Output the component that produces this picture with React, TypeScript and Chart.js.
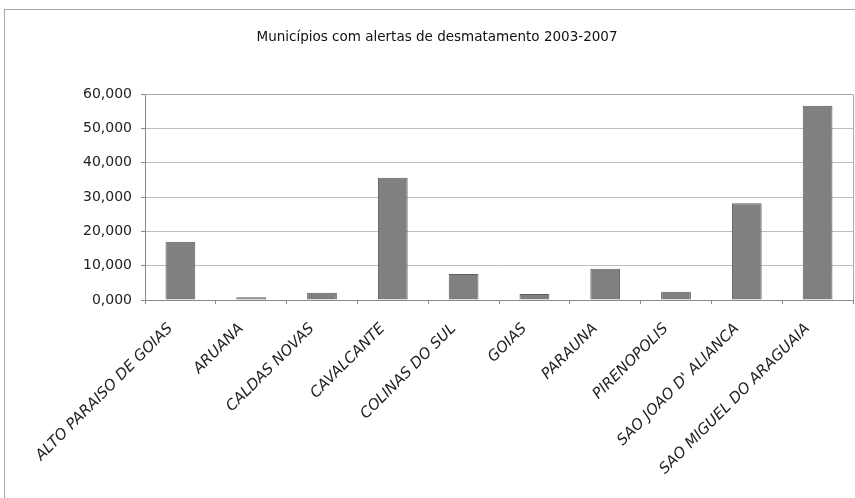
import React, { useEffect, useRef } from "react";
import { Chart, registerables } from "chart.js";

Chart.register(...registerables);

const title = "Municípios com alertas de desmatamento 2003-2007";
const categories = [
  "ALTO PARAISO DE GOIAS",
  "ARUANA",
  "CALDAS NOVAS",
  "CAVALCANTE",
  "COLINAS DO SUL",
  "GOIAS",
  "PARAUNA",
  "PIRENOPOLIS",
  "SAO JOAO D' ALIANCA",
  "SAO MIGUEL DO ARAGUAIA",
];
const values = [17.0, 0.8, 2.1, 35.6, 7.6, 1.75, 9.1, 2.4, 28.2, 56.6];
const yTickLabels = ["0,000", "10,000", "20,000", "30,000", "40,000", "50,000", "60,000"];

const W = 855;
const H = 498;

const frame = {
  id: "plotFrame",
  afterDraw(chart: any) {
    const { ctx, chartArea } = chart;
    ctx.save();
    ctx.strokeStyle = "#a8a8a8";
    ctx.lineWidth = 1;
    ctx.beginPath();
    ctx.moveTo(chartArea.left, Math.round(chartArea.top) + 0.5);
    ctx.lineTo(Math.round(chartArea.right) + 0.5, Math.round(chartArea.top) + 0.5);
    ctx.lineTo(Math.round(chartArea.right) + 0.5, chartArea.bottom);
    ctx.stroke();
    ctx.fillStyle = "#111";
    ctx.font = "13.5px 'DejaVu Sans'";
    ctx.textAlign = "center";
    ctx.textBaseline = "middle";
    ctx.fillText(title, 437, 37);
    ctx.restore();
  },
};

export default function App() {
  const ref = useRef<HTMLCanvasElement | null>(null);
  useEffect(() => {
    if (!ref.current) return;
    const chart = new Chart(ref.current, {
      type: "bar",
      data: {
        labels: categories,
        datasets: [
          {
            data: values,
            backgroundColor: "#808080",
            borderColor: "#5e5e5e",
            borderWidth: 1,
            categoryPercentage: 1,
            barPercentage: 0.42,
          },
        ],
      },
      options: {
        responsive: false,
        animation: false,
        layout: { padding: { left: 0, right: 2, top: 94, bottom: 0 } },
        plugins: {
          legend: { display: false },
          tooltip: { enabled: false },
          title: { display: false },
        },
        scales: {
          x: {
            grid: {
              offset: true,
              drawOnChartArea: false,
              drawTicks: true,
              tickLength: 4,
              color: "#888",
            },
            border: { color: "#888" },
            ticks: {
              maxRotation: 45,
              minRotation: 45,
              autoSkip: false,
              padding: 16,
              labelOffset: -10,
              color: "#222",
              font: { family: "DejaVu Sans", size: 15, style: "italic" },
            },
            afterFit(scale: any) {
              scale.height = 198;
            },
          },
          y: {
            min: 0,
            max: 60,
            grid: { color: "#bdbdbd", tickLength: 4, tickColor: "#888" },
            border: { color: "#888" },
            ticks: {
              stepSize: 10,
              padding: 9,
              color: "#222",
              font: { family: "DejaVu Sans", size: 14 },
              callback: (v: any) => yTickLabels[Math.round(Number(v) / 10)] ?? "",
            },
            afterFit(scale: any) {
              scale.width = 145;
            },
          },
        },
      },
      plugins: [frame],
    });
    return () => chart.destroy();
  }, []);

  return (
    <div
      style={{
        position: "absolute",
        left: 0,
        top: 0,
        width: W,
        height: H,
        overflow: "hidden",
        background: "#fff",
      }}
    >
      <div
        style={{
          position: "absolute",
          left: 4,
          top: 9,
          width: 900,
          height: 520,
          border: "1px solid #a8a8a8",
        }}
      />
      <canvas
        ref={ref}
        width={W}
        height={H}
        style={{ position: "absolute", left: 0, top: 0, width: W, height: H }}
      />
    </div>
  );
}
